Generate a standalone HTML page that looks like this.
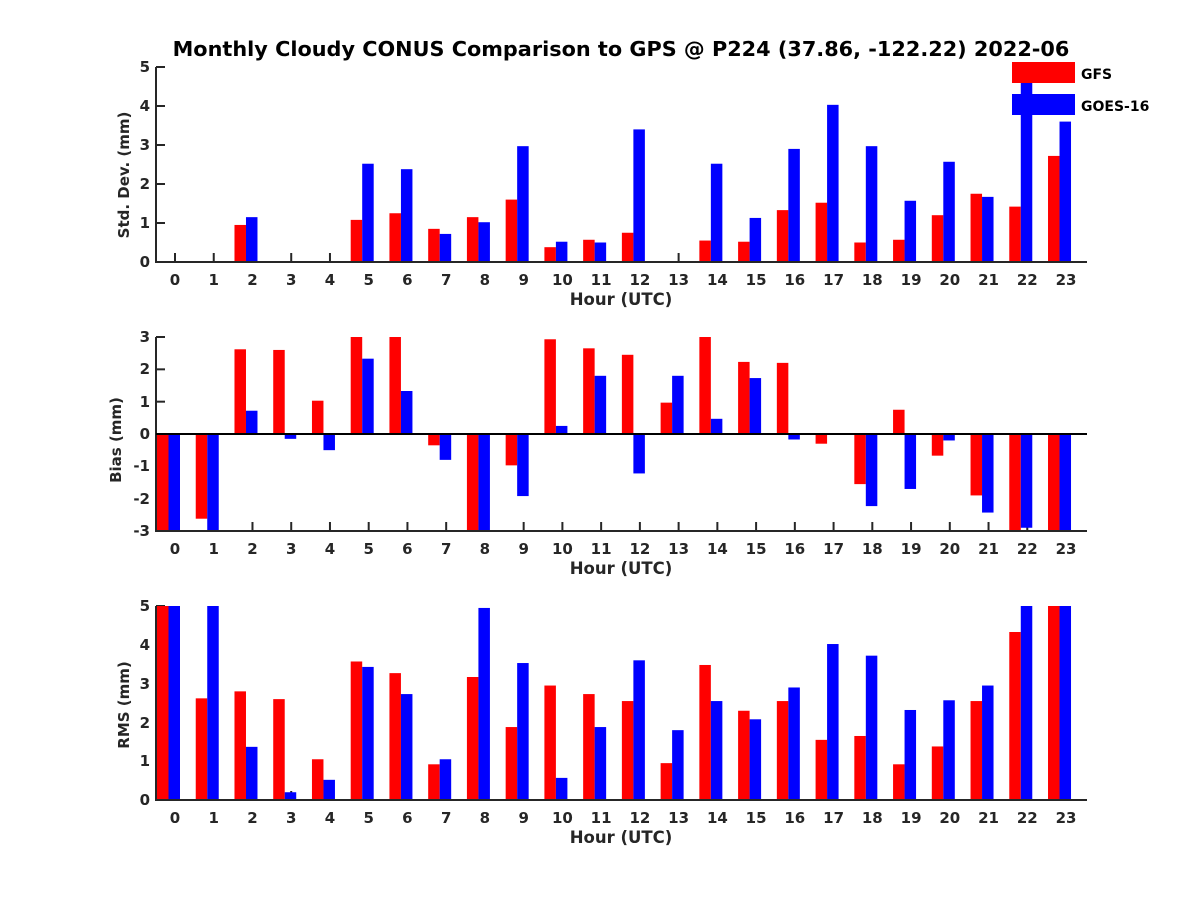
<!DOCTYPE html>
<html><head><meta charset="utf-8"><style>body{margin:0;background:#fff}svg{display:block}text{font-family:"DejaVu Sans","Liberation Sans",sans-serif;font-weight:bold;fill:#262626}</style></head><body>
<svg id="s" width="1200" height="900" xmlns="http://www.w3.org/2000/svg">
<rect width="1200" height="900" fill="#fff"/>
<g id="ticks"></g>
<g id="bars"></g>
<g id="axes"></g>
<text x="621" y="56" font-size="20.8" text-anchor="middle" style="fill:#000">Monthly Cloudy CONUS Comparison to GPS @ P224 (37.86, -122.22) 2022-06</text>
<g font-size="15" text-anchor="end">
<text x="150" y="72">5</text><text x="150" y="111">4</text><text x="150" y="150">3</text><text x="150" y="189">2</text><text x="150" y="228">1</text><text x="150" y="267">0</text>
<text x="150" y="342">3</text><text x="150" y="374">2</text><text x="150" y="407">1</text><text x="150" y="439">0</text><text x="150" y="471">-1</text><text x="150" y="504">-2</text><text x="150" y="536">-3</text>
<text x="150" y="611">5</text><text x="150" y="650">4</text><text x="150" y="689">3</text><text x="150" y="728">2</text><text x="150" y="766">1</text><text x="150" y="805">0</text>
</g>
<g font-size="15" text-anchor="middle">
<text transform="translate(129,175) rotate(-90)">Std. Dev. (mm)</text>
<text transform="translate(121,440) rotate(-90)">Bias (mm)</text>
<text transform="translate(129,705) rotate(-90)">RMS (mm)</text>
</g>
<g font-size="16.5" text-anchor="middle">
<text x="621" y="305">Hour (UTC)</text><text x="621" y="574">Hour (UTC)</text><text x="621" y="843">Hour (UTC)</text>
</g>
<g font-size="15" text-anchor="middle">
<g transform="translate(0,285)"><text x="175">0</text><text x="213.7">1</text><text x="252.5">2</text><text x="291.2">3</text><text x="330">4</text><text x="368.7">5</text><text x="407.4">6</text><text x="446.2">7</text><text x="484.9">8</text><text x="523.7">9</text><text x="562.4">10</text><text x="601.1">11</text><text x="639.9">12</text><text x="678.6">13</text><text x="717.4">14</text><text x="756.1">15</text><text x="794.8">16</text><text x="833.6">17</text><text x="872.3">18</text><text x="911.1">19</text><text x="949.8">20</text><text x="988.5">21</text><text x="1027.3">22</text><text x="1066">23</text></g>
<g transform="translate(0,554)"><text x="175">0</text><text x="213.7">1</text><text x="252.5">2</text><text x="291.2">3</text><text x="330">4</text><text x="368.7">5</text><text x="407.4">6</text><text x="446.2">7</text><text x="484.9">8</text><text x="523.7">9</text><text x="562.4">10</text><text x="601.1">11</text><text x="639.9">12</text><text x="678.6">13</text><text x="717.4">14</text><text x="756.1">15</text><text x="794.8">16</text><text x="833.6">17</text><text x="872.3">18</text><text x="911.1">19</text><text x="949.8">20</text><text x="988.5">21</text><text x="1027.3">22</text><text x="1066">23</text></g>
<g transform="translate(0,823)"><text x="175">0</text><text x="213.7">1</text><text x="252.5">2</text><text x="291.2">3</text><text x="330">4</text><text x="368.7">5</text><text x="407.4">6</text><text x="446.2">7</text><text x="484.9">8</text><text x="523.7">9</text><text x="562.4">10</text><text x="601.1">11</text><text x="639.9">12</text><text x="678.6">13</text><text x="717.4">14</text><text x="756.1">15</text><text x="794.8">16</text><text x="833.6">17</text><text x="872.3">18</text><text x="911.1">19</text><text x="949.8">20</text><text x="988.5">21</text><text x="1027.3">22</text><text x="1066">23</text></g>
</g>
<rect x="1012" y="62" width="63" height="21" fill="#f00"/>
<rect x="1012" y="94" width="63" height="21" fill="#00f"/>
<text x="1081" y="79" font-size="14" style="fill:#000">GFS</text>
<text x="1081" y="111" font-size="14" style="fill:#000">GOES-16</text>
</svg>
<script>
var ns='http://www.w3.org/2000/svg';
function el(g,t,a){var e=document.createElementNS(ns,t);for(var k in a)e.setAttribute(k,a[k]);document.getElementById(g).appendChild(e);}
var sr=[0,0,.95,0,0,1.08,1.25,.85,1.15,1.6,.38,.57,.75,0,.55,.52,1.33,1.52,.5,.57,1.2,1.75,1.42,2.72];
var sb=[0,0,1.15,0,0,2.52,2.38,.72,1.02,2.97,.52,.5,3.4,0,2.52,1.13,2.9,4.03,2.97,1.57,2.57,1.67,5,3.6];
var br=[-3,-2.62,2.62,2.6,1.03,3,3,-.35,-3,-.97,2.93,2.65,2.45,.97,3,2.23,2.2,-.3,-1.55,.75,-.67,-1.9,-3,-3];
var bb=[-3,-3,.72,-.15,-.5,2.33,1.33,-.8,-3,-1.92,.25,1.8,-1.22,1.8,.47,1.73,-.17,-.03,-2.23,-1.7,-.2,-2.43,-2.9,-3];
var rr=[5,2.62,2.8,2.6,1.05,3.57,3.27,.92,3.17,1.88,2.95,2.73,2.55,.95,3.48,2.3,2.55,1.55,1.65,.92,1.38,2.55,4.33,5];
var rb=[5,5,1.37,.2,.52,3.43,2.73,1.05,4.95,3.53,.57,1.88,3.6,1.8,2.55,2.08,2.9,4.02,3.72,2.32,2.57,2.95,5,5];
function plot(R,B,y0,k){for(var i=0;i<24;i++){var c=175+38.74*i;[[R[i],c-18,'#f00'],[B[i],c-6.5,'#00f']].forEach(function(d){var v=d[0];if(!v)return;var h=Math.abs(v)*k;el('bars','rect',{x:d[1],y:v>0?y0-h:y0,width:11.5,height:h,fill:d[2]});});}}
plot(sr,sb,262,39);plot(br,bb,434,32.33);plot(rr,rb,800,38.8);
var ax='#262626';
[[67,262,[0,1,2,3,4,5].map(function(v){return 262-39*v})],[337,531,[-3,-2,-1,0,1,2,3].map(function(v){return 434-32.33*v})],[606,800,[0,1,2,3,4,5].map(function(v){return 800-38.8*v})]].forEach(function(p,j){
var yb=p[1];el('axes','line',{x1:156,y1:p[0],x2:156,y2:yb+1,stroke:ax,'stroke-width':2});
el('axes','line',{x1:155,y1:yb,x2:1087,y2:yb,stroke:ax,'stroke-width':2});
p[2].forEach(function(y){el('ticks','line',{x1:156,y1:y,x2:165,y2:y,stroke:ax,'stroke-width':2});});
for(var i=0;i<24;i++){var c=175+38.74*i;el('ticks','line',{x1:c,y1:yb,x2:c,y2:yb-9,stroke:ax,'stroke-width':2});}
if(j==1)el('axes','line',{x1:156,y1:434,x2:1087,y2:434,stroke:'#000','stroke-width':2});});
</script>
</body></html>
